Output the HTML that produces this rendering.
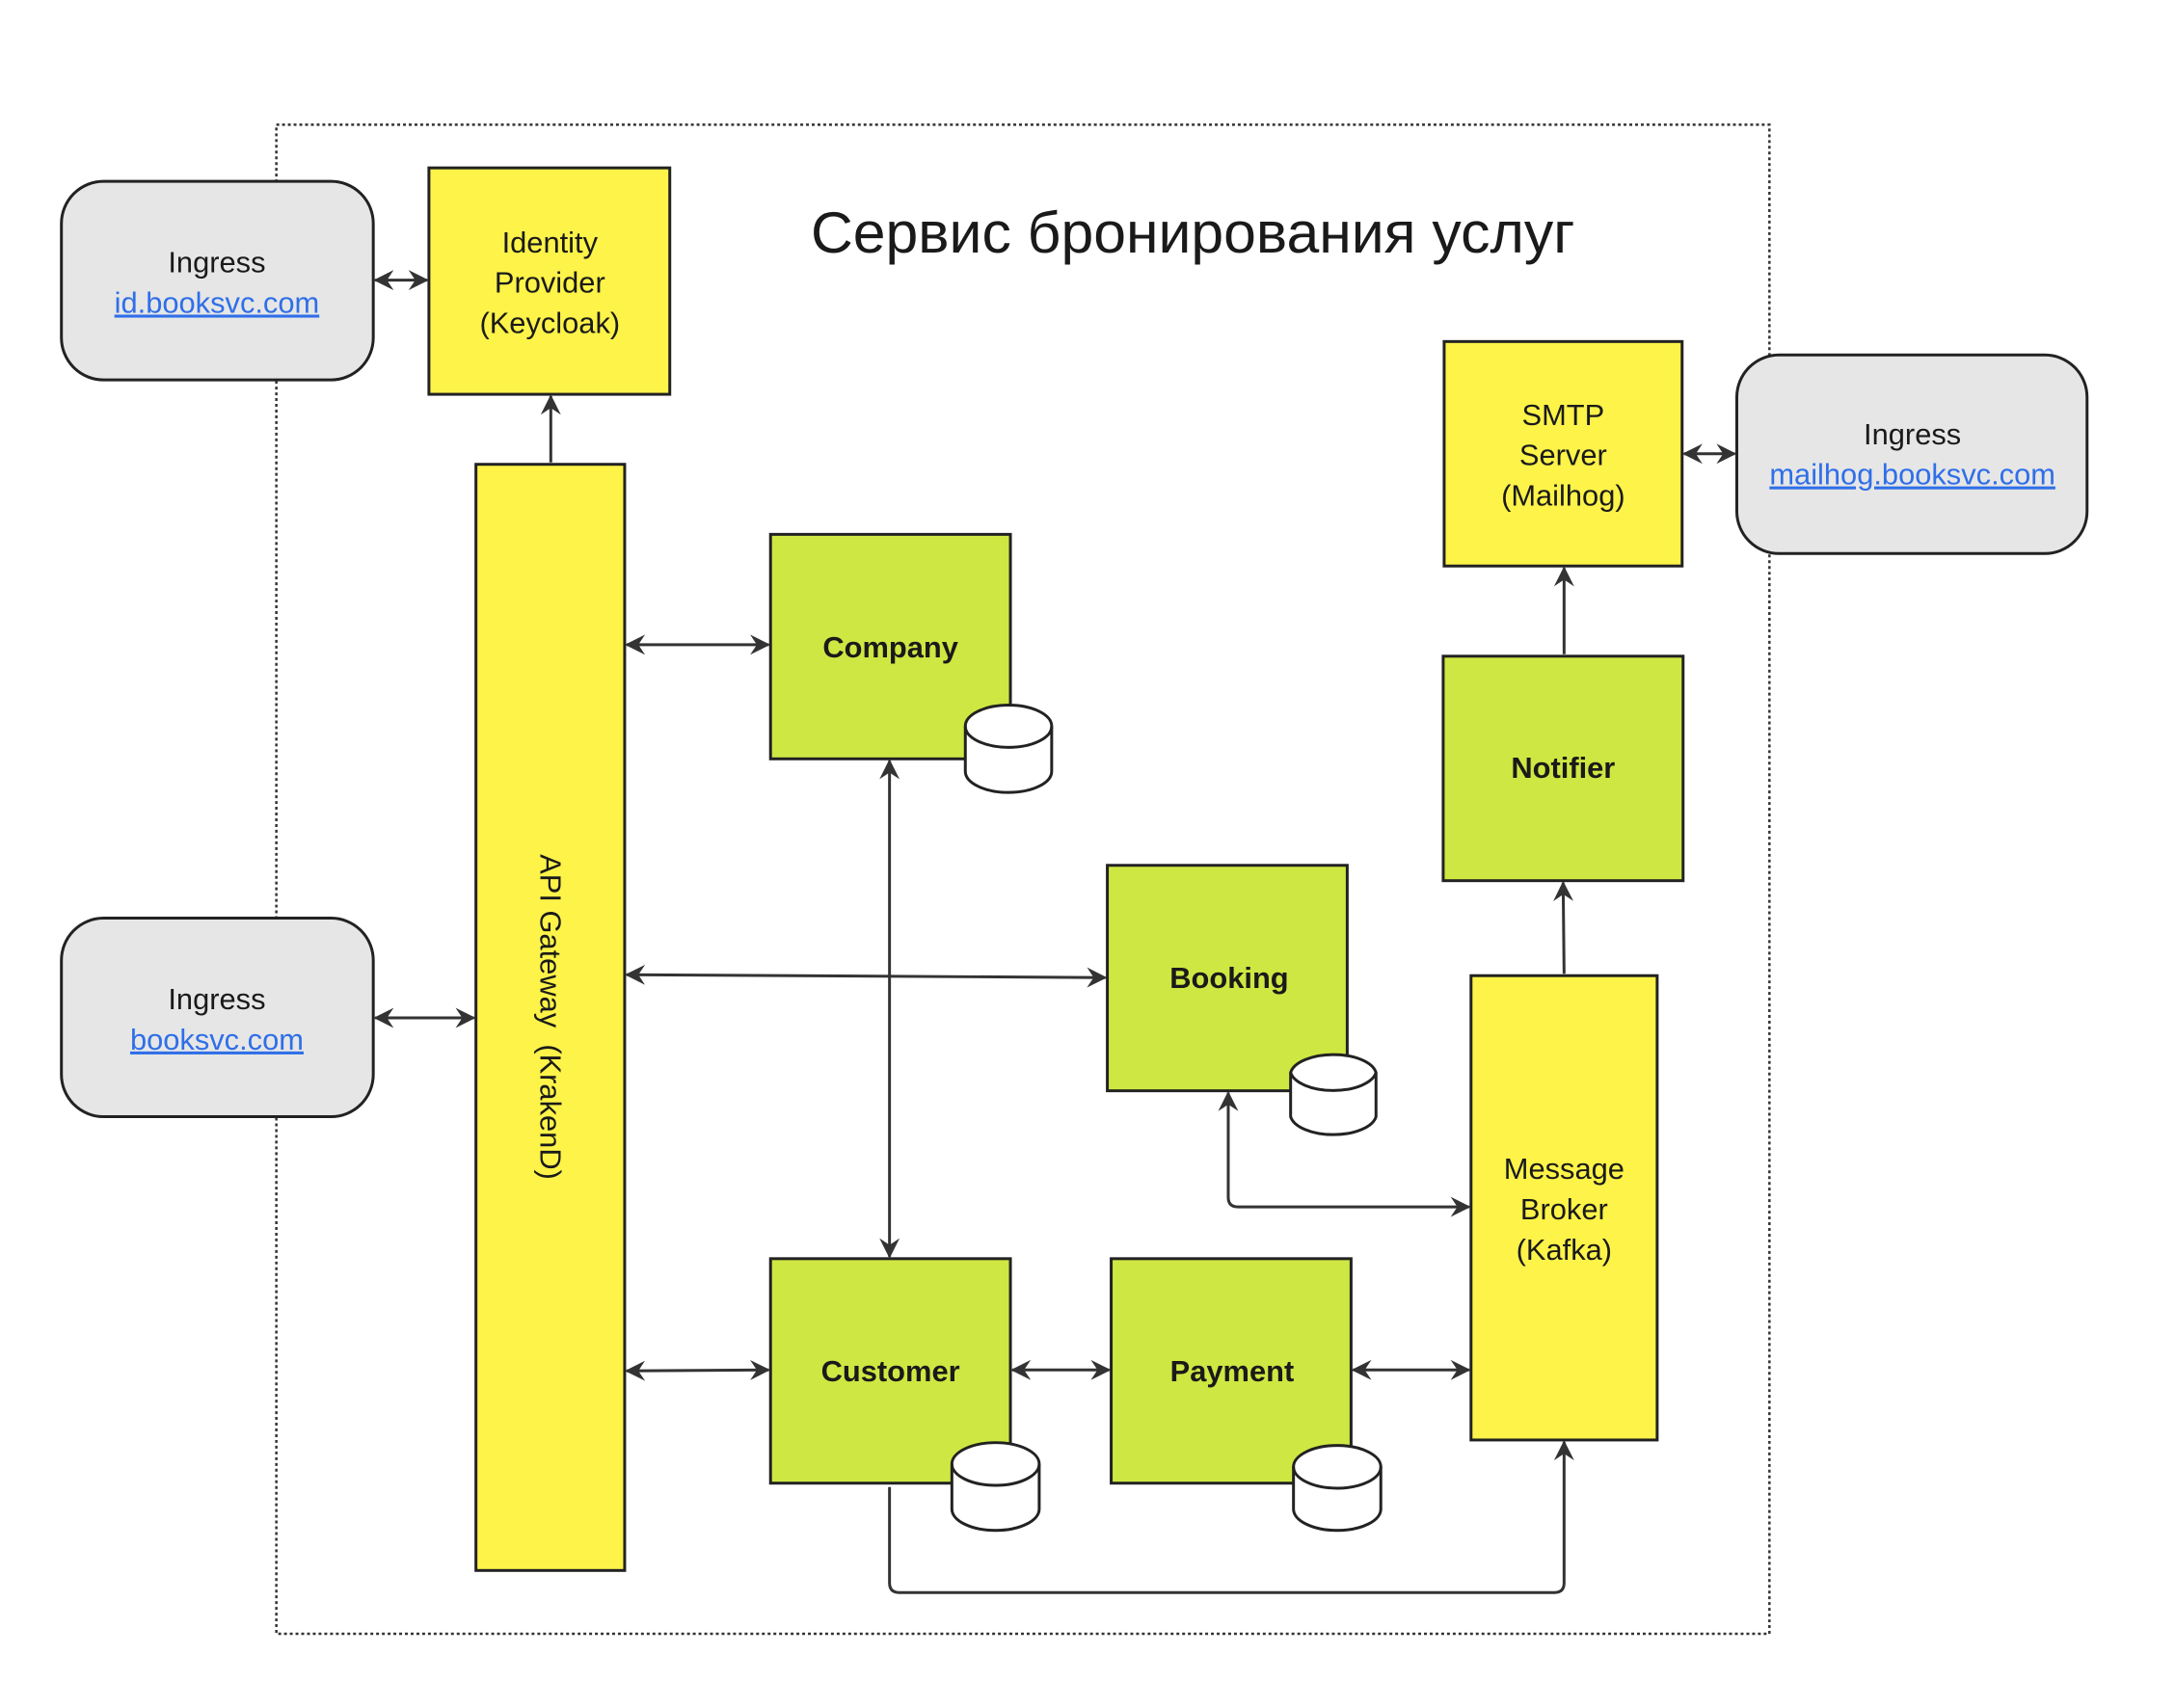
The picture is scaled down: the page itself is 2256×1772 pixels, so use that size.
<!DOCTYPE html>
<html><head><meta charset="utf-8"><style>
html,body{margin:0;padding:0;background:#fff;}
svg{display:block;}
text{font-family:"Liberation Sans","DejaVu Sans",sans-serif;fill:#1a1a1a;}
</style></head><body>
<svg width="2256" height="1772" viewBox="0 0 2256 1772" xmlns="http://www.w3.org/2000/svg">
<defs>
<marker id="a" viewBox="0 0 12 12" refX="11" refY="6" markerWidth="7" markerHeight="7" markerUnits="strokeWidth" orient="auto-start-reverse">
<path d="M0,0 L12,6 L0,12 L4,6 z" fill="#333"/>
</marker>
</defs>
<g transform="scale(0.9953)">
<rect x="288" y="130" width="1556" height="1573" fill="none" stroke="#333" stroke-width="2.5" stroke-dasharray="3,3"/>
<text x="1243" y="263" font-size="61" text-anchor="middle">Сервис бронирования услуг</text>

<g stroke="#333" stroke-width="3" fill="none">
<line x1="391" y1="292" x2="445" y2="292" marker-start="url(#a)" marker-end="url(#a)"/>
<line x1="574" y1="482" x2="574" y2="413" marker-end="url(#a)"/>
<line x1="653" y1="672" x2="801" y2="672" marker-start="url(#a)" marker-end="url(#a)"/>
<line x1="653" y1="1016" x2="1152" y2="1019" marker-start="url(#a)" marker-end="url(#a)"/>
<line x1="391" y1="1061" x2="494" y2="1061" marker-start="url(#a)" marker-end="url(#a)"/>
<line x1="653" y1="1429" x2="801" y2="1428" marker-start="url(#a)" marker-end="url(#a)"/>
<line x1="927" y1="793" x2="927" y2="1310" marker-start="url(#a)" marker-end="url(#a)"/>
<line x1="1055" y1="1428" x2="1156" y2="1428" marker-start="url(#a)" marker-end="url(#a)"/>
<line x1="1410" y1="1428" x2="1531" y2="1428" marker-start="url(#a)" marker-end="url(#a)"/>
<path d="M1280,1139 L1280,1248 Q1280,1258 1290,1258 L1531,1258" marker-start="url(#a)" marker-end="url(#a)"/>
<path d="M927,1550 L927,1650 Q927,1660 937,1660 L1620,1660 Q1630,1660 1630,1650 L1630,1503" marker-end="url(#a)"/>
<line x1="1630" y1="1015" x2="1629" y2="920" marker-end="url(#a)"/>
<line x1="1630" y1="682" x2="1630" y2="592" marker-end="url(#a)"/>
<line x1="1755" y1="473" x2="1808" y2="473" marker-start="url(#a)" marker-end="url(#a)"/>
</g>

<g stroke="#222" stroke-width="3">
<rect x="64" y="189" width="325" height="207" rx="44" fill="#e6e6e6"/>
<rect x="64" y="957" width="325" height="207" rx="44" fill="#e6e6e6"/>
<rect x="1810" y="370" width="365" height="207" rx="44" fill="#e6e6e6"/>
<rect x="447" y="175" width="251" height="236" fill="#fdf349"/>
<rect x="1505" y="356" width="248" height="234" fill="#fdf349"/>
<rect x="496" y="484" width="155" height="1153" fill="#fdf349"/>
<rect x="1533" y="1017" width="194" height="484" fill="#fdf349"/>
<rect x="803" y="557" width="250" height="234" fill="#cfe742"/>
<rect x="1504" y="684" width="250" height="234" fill="#cfe742"/>
<rect x="1154" y="902" width="250" height="235" fill="#cfe742"/>
<rect x="803" y="1312" width="250" height="234" fill="#cfe742"/>
<rect x="1158" y="1312" width="250" height="234" fill="#cfe742"/>
</g>

<g stroke="#222" stroke-width="3" fill="#fff">
<path d="M1006,757 L1006,804 A45,22 0 0 0 1096,804 L1096,757 A45,22 0 0 0 1006,757 z"/><path d="M1006,757 A45,22 0 0 0 1096,757" fill="none"/>
<path d="M1345,1118 L1345,1164 A45,22 0 0 0 1434,1164 L1434,1118 A45,22 0 0 0 1345,1118 z"/><path d="M1345,1118 A45,22 0 0 0 1434,1118" fill="none"/>
<path d="M992,1526 L992,1573 A45,22 0 0 0 1083,1573 L1083,1526 A45,22 0 0 0 992,1526 z"/><path d="M992,1526 A45,22 0 0 0 1083,1526" fill="none"/>
<path d="M1348,1529 L1348,1573 A45,22 0 0 0 1439,1573 L1439,1529 A45,22 0 0 0 1348,1529 z"/><path d="M1348,1529 A45,22 0 0 0 1439,1529" fill="none"/>
</g>

<g font-size="31" text-anchor="middle">
<text x="226" y="284">Ingress</text>
<text x="226" y="326" style="fill:#2f6fe8" text-decoration="underline">id.booksvc.com</text>
<text x="226" y="1052">Ingress</text>
<text x="226" y="1094" style="fill:#2f6fe8" text-decoration="underline">booksvc.com</text>
<text x="1993" y="463">Ingress</text>
<text x="1993" y="505" style="fill:#2f6fe8" text-decoration="underline">mailhog.booksvc.com</text>
<text x="573" y="263">Identity</text>
<text x="573" y="305">Provider</text>
<text x="573" y="347">(Keycloak)</text>
<text x="1629" y="443">SMTP</text>
<text x="1629" y="485">Server</text>
<text x="1629" y="527">(Mailhog)</text>
<text x="1630" y="1229">Message</text>
<text x="1630" y="1271">Broker</text>
<text x="1630" y="1313">(Kafka)</text>
<text transform="translate(563,1060) rotate(90)" text-anchor="middle" xml:space="preserve">API Gateway  (KrakenD)</text>
</g>
<g font-size="31" font-weight="bold" text-anchor="middle">
<text x="928" y="685">Company</text>
<text x="1629" y="811">Notifier</text>
<text x="1281" y="1030">Booking</text>
<text x="928" y="1440">Customer</text>
<text x="1284" y="1440">Payment</text>
</g>
</g>
</svg>
</body></html>
